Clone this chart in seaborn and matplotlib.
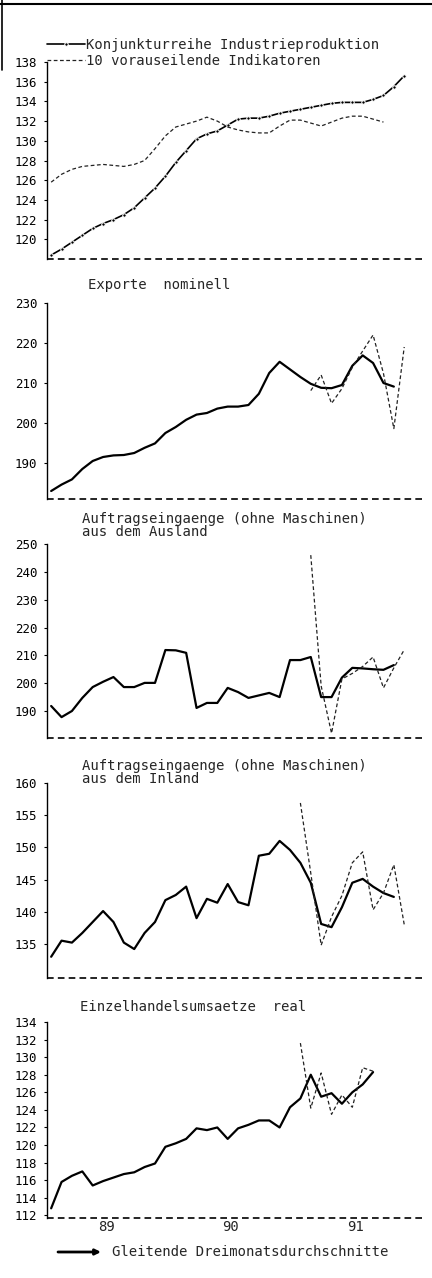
import pandas as pd
import seaborn as sns
import matplotlib.pyplot as plt
from matplotlib.lines import Line2D

# months counted from Jan 1989
ind_months = list(range(35))
ind_prod = [118.4, 119.0, 119.7, 120.4, 121.1, 121.6, 122.0, 122.5, 123.2, 124.2,
            125.2, 126.4, 127.8, 129.0, 130.2, 130.7, 131.0, 131.6, 132.2, 132.3,
            132.3, 132.5, 132.8, 133.0, 133.2, 133.4, 133.6, 133.8, 133.9, 133.9,
            133.9, 134.2, 134.6, 135.5, 136.6]
lead_months = list(range(33))
lead_ind = [125.8, 126.6, 127.1, 127.4, 127.5, 127.6, 127.5, 127.4, 127.6, 128.0,
            129.2, 130.5, 131.4, 131.7, 132.0, 132.4, 132.0, 131.4, 131.1, 130.9,
            130.8, 130.8, 131.5, 132.1, 132.1, 131.8, 131.5, 131.9, 132.3, 132.5,
            132.5, 132.2, 131.9]

exp_months = list(range(34))
exp_avg = [183.0, 184.6, 185.9, 188.5, 190.5, 191.5, 191.9, 192.0, 192.5, 193.8,
           194.9, 197.5, 199.0, 200.8, 202.1, 202.5, 203.6, 204.1, 204.1, 204.5,
           207.3, 212.5, 215.3, 213.4, 211.5, 209.8, 208.8, 208.7, 209.5, 214.3,
           216.9, 215.0, 210.0, 209.1]
exp_raw_months = list(range(25, 35))
exp_raw = [208.1, 212.0, 204.9, 208.6, 213.9, 218.0, 222.0, 212.4, 198.6, 219.0]

aus_months = list(range(34))
aus_avg = [191.8, 187.8, 190.0, 194.7, 198.6, 200.5, 202.2, 198.6, 198.6, 200.1,
           200.1, 211.9, 211.8, 210.9, 191.1, 192.9, 192.9, 198.3, 196.8, 194.7,
           195.6, 196.5, 195.0, 208.3, 208.3, 209.4, 195.0, 195.0, 202.0, 205.5,
           205.3, 205.0, 204.8, 206.5]
aus_raw_months = list(range(25, 35))
aus_raw = [246.0, 199.0, 182.0, 201.5, 203.5, 206.0, 209.4, 198.3, 205.5, 212.0]

inl_months = list(range(34))
inl_avg = [133.0, 135.5, 135.2, 136.7, 138.4, 140.1, 138.4, 135.2, 134.2, 136.7,
           138.4, 141.8, 142.6, 143.9, 139.0, 142.0, 141.4, 144.3, 141.5, 141.0,
           148.7, 149.0, 151.0, 149.6, 147.6, 144.5, 138.1, 137.6, 140.7, 144.5,
           145.1, 143.9, 142.9, 142.3]
inl_raw_months = list(range(24, 35))
inl_raw = [156.9, 146.0, 134.8, 139.2, 142.5, 147.6, 149.3, 140.3, 142.9, 147.3, 138.0]

ret_months = list(range(32))
ret_avg = [112.8, 115.8, 116.5, 117.0, 115.4, 115.9, 116.3, 116.7, 116.9, 117.5,
           117.9, 119.8, 120.2, 120.7, 121.9, 121.7, 122.0, 120.7, 121.9, 122.3,
           122.8, 122.8, 122.0, 124.3, 125.3, 128.0, 125.5, 125.9, 124.7, 126.0,
           126.9, 128.3]
ret_raw_months = list(range(24, 32))
ret_raw = [131.6, 124.2, 128.2, 123.5, 125.7, 124.3, 128.8, 128.4]

year_ticks = [12, 24]
year_label_pos = [5.3, 17.3, 29.3]
year_labels = ["89", "90", "91"]

sns.set_style("white")
plt.rcParams["font.family"] = ["DejaVu Sans Mono", "DejaVu Sans"]

W, H = 432, 1278
fig = plt.figure(figsize=(W / 100, H / 100), dpi=100)


def px_rect(top, bottom):
    return [47 / W, 1 - bottom / H, 378 / W, (bottom - top) / H]


def style_axis(ax, ylim, yticks, month_ticks):
    ax.set_xlim(-0.4, 36)
    ax.set_ylim(*ylim)
    ax.set_yticks(yticks)
    ax.set_xticks(year_ticks)
    ax.set_xticks(month_ticks, minor=True)
    ax.set_xticklabels([])
    ax.set_xlabel("")
    ax.set_ylabel("")
    for s in ["top", "right"]:
        ax.spines[s].set_visible(False)
    bottom = ax.spines["bottom"]
    bottom.set_linestyle((0, (4, 2.5)))
    bottom.set_linewidth(1.2)
    bottom.set_capstyle("butt")
    bottom.set_color("black")
    ax.spines["left"].set_linewidth(1.0)
    ax.spines["left"].set_color("black")
    ax.tick_params(axis="x", which="major", direction="in", length=7, width=1, colors="black")
    ax.tick_params(axis="x", which="minor", direction="in", length=3, width=0.8, colors="black")
    ax.tick_params(axis="y", direction="out", length=2, width=0.8, pad=5,
                   labelsize=9, colors="black", left=True)


avg_kw = dict(color="black", linewidth=1.6)
raw_kw = dict(color="#222222", linewidth=0.9, linestyle=(0, (3, 2)))

# panel 1
ax1 = fig.add_axes(px_rect(62, 259))
sns.lineplot(x=ind_months, y=ind_prod, ax=ax1, color="black", linewidth=1.2,
             marker="o", markersize=2.5, label="Konjunkturreihe Industrieproduktion")
sns.lineplot(x=lead_months, y=lead_ind, ax=ax1, label="10 vorauseilende Indikatoren", **raw_kw)
style_axis(ax1, (118, 138), range(120, 139, 2), [0, 2, 8, 11, 31, 33, 35])
ax1.legend(loc="lower left", bbox_to_anchor=(0.0, 0.97), frameon=False,
           handlelength=2.7, handletextpad=0.1, labelspacing=0.15,
           borderpad=0, borderaxespad=0, fontsize=10)

# panel 2
ax2 = fig.add_axes(px_rect(303, 499))
sns.lineplot(x=exp_months, y=exp_avg, ax=ax2, legend=False, **avg_kw)
sns.lineplot(x=exp_raw_months, y=exp_raw, ax=ax2, legend=False, **raw_kw)
style_axis(ax2, (181, 230), range(190, 231, 10), list(range(12, 26)))
fig.text(88 / W, 1 - 285 / H, "Exporte  nominell", fontsize=10, va="center")

# panel 3
ax3 = fig.add_axes(px_rect(544, 738))
sns.lineplot(x=aus_months, y=aus_avg, ax=ax3, legend=False, **avg_kw)
sns.lineplot(x=aus_raw_months, y=aus_raw, ax=ax3, legend=False, **raw_kw)
style_axis(ax3, (180.3, 250), range(190, 251, 10), [13, 15, 21, 22])
fig.text(82 / W, 1 - 519 / H, "Auftragseingaenge (ohne Maschinen)", fontsize=10, va="center")
fig.text(82 / W, 1 - 532 / H, "aus dem Ausland", fontsize=10, va="center")

# panel 4
ax4 = fig.add_axes(px_rect(783, 978))
sns.lineplot(x=inl_months, y=inl_avg, ax=ax4, legend=False, **avg_kw)
sns.lineplot(x=inl_raw_months, y=inl_raw, ax=ax4, legend=False, **raw_kw)
style_axis(ax4, (129.7, 160), range(135, 161, 5), [22, 23])
fig.text(82 / W, 1 - 766 / H, "Auftragseingaenge (ohne Maschinen)", fontsize=10, va="center")
fig.text(82 / W, 1 - 779 / H, "aus dem Inland", fontsize=10, va="center")

# panel 5
ax5 = fig.add_axes(px_rect(1022, 1218))
sns.lineplot(x=ret_months, y=ret_avg, ax=ax5, legend=False, **avg_kw)
sns.lineplot(x=ret_raw_months, y=ret_raw, ax=ax5, legend=False, **raw_kw)
style_axis(ax5, (111.7, 134), range(112, 135, 2), list(range(0, 30)))
fig.text(80 / W, 1 - 1007 / H, "Einzelhandelsumsaetze  real", fontsize=10, va="center")
for pos, lab in zip(year_label_pos, year_labels):
    ax5.text(pos, -0.045, lab, transform=ax5.get_xaxis_transform(),
             ha="center", va="center", fontsize=10)

# caption with arrow
fig.text(112 / W, 1 - 1252 / H, "Gleitende Dreimonatsdurchschnitte", fontsize=10, va="center")
fig.add_artist(plt.Annotation("", xy=(101 / W, 1 - 1252 / H), xytext=(58 / W, 1 - 1252 / H),
                              xycoords="figure fraction", textcoords="figure fraction",
                              arrowprops=dict(arrowstyle="-|>", lw=2, color="black",
                                              mutation_scale=8, shrinkA=0, shrinkB=0)))

# scan frame remnants
fig.add_artist(Line2D([0, 1], [1 - 3.5 / H] * 2, transform=fig.transFigure, color="black", lw=1.5))
fig.add_artist(Line2D([2 / W] * 2, [1, 1 - 70 / H], transform=fig.transFigure, color="black", lw=1.2))

fig.savefig("out.png", dpi=100, facecolor="white")
